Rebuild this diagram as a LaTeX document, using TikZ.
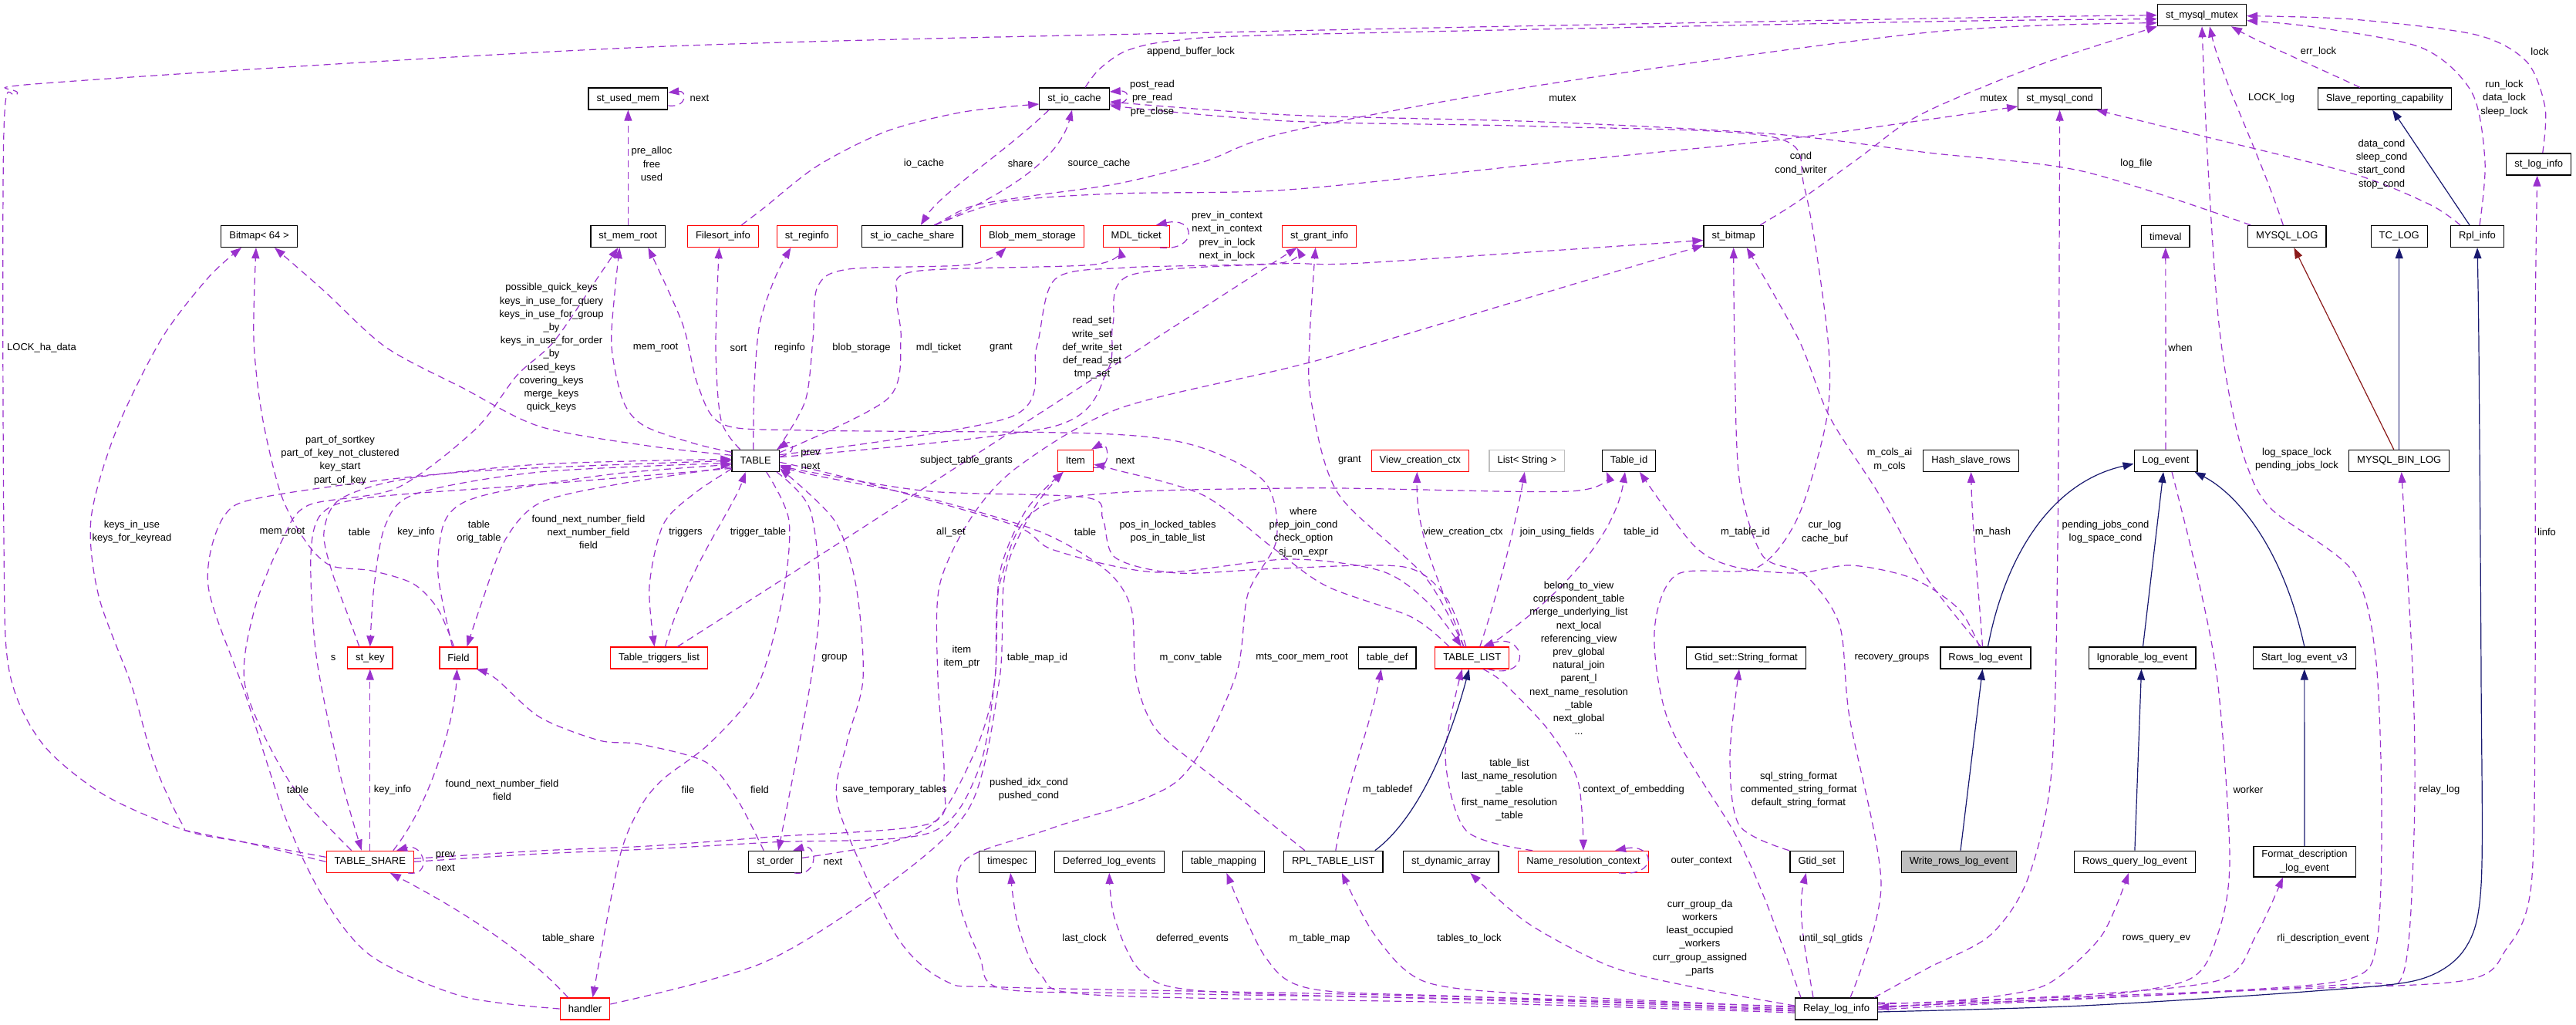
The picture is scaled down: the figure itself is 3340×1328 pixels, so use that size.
\documentclass[tikz,border=0pt]{standalone}
\usepackage{fontspec}
\setmainfont{Liberation Sans}
\usepackage{tikz}
\usetikzlibrary{arrows.meta}
\definecolor{usecol}{RGB}{154,50,205}
\definecolor{inhcol}{RGB}{25,25,112}
\definecolor{protcol}{RGB}{139,26,26}

\begin{document}
\begin{tikzpicture}[
    x=1pt, y=-1pt,
    every node/.style={font=\fontsize{13}{17.2}\selectfont},
    cls/.style={draw=black, line width=1.25pt, fill=white, minimum height=28pt, inner xsep=10.5pt, inner ysep=3pt},
    clsred/.style={cls, draw=red},
    clsgray/.style={cls, draw=black!25},
    clsmain/.style={cls, fill=black!25},
    lbl/.style={align=center, inner sep=0pt},
    uses/.style={usecol, line width=1.2pt, dash pattern=on 9pt off 6pt, -{Triangle[length=14pt, width=10pt]}},
    inherit/.style={inhcol, line width=1.2pt, -{Triangle[length=14pt, width=10pt]}},
    protinh/.style={protcol, line width=1.2pt, -{Triangle[length=14pt, width=10pt]}}
]
\fill[white] (0,0) rectangle (3340,1328);
\useasboundingbox (0,0) rectangle (3340,1328);

% row 0 / row 1
\node[cls] (mutex) at (2855,19.7) {st\_mysql\_mutex};
\node[cls] (usedmem) at (814.4,128) {st\_used\_mem};
\node[cls] (iocache) at (1393,128) {st\_io\_cache};
\node[cls] (mcond) at (2670.6,128) {st\_mysql\_cond};
\node[cls] (slaverep) at (3092,128) {Slave\_reporting\_capability};
\node[cls] (loginfo) at (3291.7,213) {st\_log\_info};

% row 2
\node[cls] (bitmap64) at (336,306.5) {Bitmap< 64 >};
\node[cls] (memroot) at (814.4,306.5) {st\_mem\_root};
\node[clsred] (filesort) at (937.4,306.5) {Filesort\_info};
\node[clsred] (reginfo) at (1046.4,306.5) {st\_reginfo};
\node[cls] (iocshare) at (1182.8,306.5) {st\_io\_cache\_share};
\node[clsred] (blobmem) at (1338.4,306.5) {Blob\_mem\_storage};
\node[clsred] (mdlticket) at (1473.2,306.5) {MDL\_ticket};
\node[clsred] (grantinfo) at (1710.6,306.5) {st\_grant\_info};
\node[cls] (stbitmap) at (2247.7,306.5) {st\_bitmap};
\node[cls] (timeval) at (2807.8,306.5) {timeval};
\node[cls] (mysqllog) at (2965.3,306.5) {MYSQL\_LOG};
\node[cls] (tclog) at (3110.7,306.5) {TC\_LOG};
\node[cls] (rplinfo) at (3212,306.5) {Rpl\_info};

% row 3
\node[cls] (table) at (979.7,597.3) {TABLE};
\node[clsred] (item) at (1394.4,597.3) {Item};
\node[clsred] (viewctx) at (1841.3,597.3) {View\_creation\_ctx};
\node[clsgray] (liststr) at (1979.8,597.3) {List< String >};
\node[cls] (tableid) at (2112,597.3) {Table\_id};
\node[cls] (hashrows) at (2555.6,597.3) {Hash\_slave\_rows};
\node[cls] (logevent) at (2808,597.3) {Log\_event};
\node[cls] (binlog) at (3110.7,597.3) {MYSQL\_BIN\_LOG};

% row 4
\node[clsred] (stkey) at (479.8,853) {st\_key};
\node[clsred] (field) at (594.5,853) {Field};
\node[clsred] (triggers) at (854.5,853) {Table\_triggers\_list};
\node[cls] (tabledef) at (1798.7,853) {table\_def};
\node[clsred] (tablelist) at (1908.8,853) {TABLE\_LIST};
\node[cls] (strformat) at (2264,853) {Gtid\_set::String\_format};
\node[cls] (rowsev) at (2574.5,853) {Rows\_log\_event};
\node[cls] (ignorable) at (2777.5,853) {Ignorable\_log\_event};
\node[cls] (startv3) at (2987.8,853) {Start\_log\_event\_v3};

% row 5
\node[clsred] (tshare) at (479.8,1117.3) {TABLE\_SHARE};
\node[cls] (storder) at (1005.2,1117.3) {st\_order};
\node[cls] (timespec) at (1306.2,1117.3) {timespec};
\node[cls] (deferred) at (1438.3,1117.3) {Deferred\_log\_events};
\node[cls] (tmapping) at (1586.4,1117.3) {table\_mapping};
\node[cls] (rpltl) at (1728.8,1117.3) {RPL\_TABLE\_LIST};
\node[cls] (dynarray) at (1881.3,1117.3) {st\_dynamic\_array};
\node[clsred] (namectx) at (2053,1117.3) {Name\_resolution\_context};
\node[cls] (gtidset) at (2355.8,1117.3) {Gtid\_set};
\node[clsmain] (writerows) at (2540,1117.3) {Write\_rows\_log\_event};
\node[cls] (rowsquery) at (2767.9,1117.3) {Rows\_query\_log\_event};
\node[cls, align=center, inner ysep=5pt] (fmtdesc) at (2988,1117.2) {Format\_description\\\_log\_event};

% row 6
\node[clsred] (handler) at (758.5,1308) {handler};
\node[cls] (rli) at (2381,1308) {Relay\_log\_info};

% edges into st_mysql_mutex
\draw[uses] plot[smooth] coordinates {(tshare.west) (321,1093) (241,1077) (134,1030) (54,963) (12,870) (5,700) (5,170) (22,122) (70,107) (840,61) (1670,40) (2500,24) (mutex.west)};
\draw[uses] plot[smooth] coordinates {([shift={(14,0)}]iocache.north) (1425,90) (1460,66) (1520,53) (1670,45) (2500,28) ([shift={(0,5)}]mutex.west)};
\draw[uses] plot[smooth] coordinates {([shift={(30,0)}]iocshare.north) (1258,268) (1330,255) (1450,238) (1560,210) (1670,171) (2000,110) (2500,42) ([shift={(0,10)}]mutex.west)};
\draw[uses] plot[smooth] coordinates {([shift={(-5,0)}]stbitmap.north east) (2330,262) (2410,205) (2470,160) (2530,130) (2650,82) (mutex.south west)};
\draw[uses] ([shift={(-32,0)}]slaverep.north) .. controls (3010,90) and (2930,55) .. ([shift={(38,0)}]mutex.south);
\draw[uses] ([shift={(-5,0)}]mysqllog.north) .. controls (2930,200) and (2880,100) .. ([shift={(10,0)}]mutex.south);
\draw[uses] plot[smooth] coordinates {([shift={(3,0)}]rplinfo.north) (3222,210) (3205,120) (3140,62) (3000,35) ([shift={(0,7)}]mutex.east)};
\draw[uses] plot[smooth] coordinates {([shift={(5,0)}]loginfo.north) (3300,140) (3276,80) (3210,45) (3050,25) ([shift={(0,1)}]mutex.east)};
\draw[uses] plot[smooth] coordinates {([shift={(0,-1)}]rli.east) (2600,1296) (2900,1284) (3050,1268) (3082,1220) (3088,1050) (3080,850) (3050,740) (2945,660) (2912,600) (2890,510) (2875,400) (2862,200) (mutex.south)};

% edges into st_mysql_cond
\draw[uses] plot[smooth] coordinates {([shift={(30,0)}]iocshare.north) (1300,262) (1446,251) (1670,246) (2000,212) (2300,182) (2500,155) ([shift={(0,10)}]mcond.west)};
\draw[uses] plot[smooth] coordinates {([shift={(-22,0)}]rplinfo.north) (3150,265) (3050,225) (2850,175) ([shift={(-7,0)}]mcond.south east)};
\draw[uses] plot[smooth] coordinates {([shift={(-5,0)}]rli.north east) (2500,1255) (2580,1213) (2629,1140) (2660,1000) (2668,700) (mcond.south)};

% st_io_cache and st_used_mem
\draw[uses] ([shift={(0,7)}]iocache.east) .. controls +(28,2) and +(28,-2) .. ([shift={(0,-9)}]iocache.east);
\draw[uses] plot[smooth] coordinates {([shift={(24,0)}]filesort.north) (990,270) (1060,215) (1150,170) (1250,145) ([shift={(0,7)}]iocache.west)};
\draw[uses] ([shift={(28,0)}]iocshare.north) .. controls (1320,245) and (1375,200) .. ([shift={(-3,0)}]iocache.south);
\draw[uses] ([shift={(-33,0)}]iocache.south) .. controls (1300,200) and (1220,250) .. ([shift={(11,0)}]iocshare.north);
\draw[uses] plot[smooth] coordinates {([shift={(-47,0)}]mysqllog.north) (2700,222) (2500,198) (2302,174) (2000,158) (1670,149) ([shift={(0,4)}]iocache.east)};
\draw[uses] plot[smooth] coordinates {([shift={(-46,0)}]rli.north) (2290,1170) (2249,1080) (2165,940) (2145,820) (2174,745) (2276,737) (2330,673) (2368,545) (2370,440) (2340,245) (2300,178) (2000,164) (1670,157) ([shift={(0,9)}]iocache.east)};
\draw[uses] ([shift={(0,9)}]usedmem.east) .. controls +(25,3) and +(25,-3) .. ([shift={(0,-8)}]usedmem.east);
\draw[uses] (memroot.north) -- (usedmem.south);
\draw[uses] ([shift={(-13,0)}]mdlticket.south east) .. controls +(50,5) and +(52,-12) .. ([shift={(-18,0)}]mdlticket.north east);

% TABLE members
\draw[uses] plot[smooth] coordinates {([shift={(0,-7)}]table.west) (840,578) (700,553) (600,503) (500,450) (420,377) ([shift={(20,0)}]bitmap64.south)};
\draw[uses] plot[smooth] coordinates {([shift={(0,-11)}]table.west) (900,575) (835,552) (808,520) (793,450) (797,380) ([shift={(-11,0)}]memroot.south)};
\draw[uses] plot[smooth] coordinates {([shift={(-20,0)}]table.north) (935,545) (928,450) ([shift={(-5,0)}]filesort.south)};
\draw[uses] plot[smooth] coordinates {([shift={(-3,0)}]table.north) (978,500) (985,420) (1005,360) ([shift={(-21,0)}]reginfo.south)};
\draw[uses] plot[smooth] coordinates {([shift={(-3,0)}]table.north east) (1044,520) (1054,440) (1060,372) (1100,349) (1258,343) ([shift={(-34,0)}]blobmem.south)};
\draw[uses] plot[smooth] coordinates {([shift={(0,4)}]table.north east) (1151,517) (1168,440) (1163,385) (1185,352) (1419,343) ([shift={(-22,0)}]mdlticket.south)};
\draw[uses] plot[smooth] coordinates {([shift={(0,7)}]table.north east) (1312,540) (1344,450) (1368,362) (1460,347) (1660,341) ([shift={(-29,0)}]grantinfo.south)};
\draw[uses] plot[smooth] coordinates {([shift={(0,10)}]table.north east) (1366,553) (1436,480) (1443,420) (1465,357) (1660,342) (1767,341) ([shift={(0,5)}]stbitmap.west)};
\draw[uses] ([shift={(0,-5)}]table.east) .. controls +(25,-5) and +(20,-14) .. ([shift={(-3,0)}]table.north east);
\draw[uses] plot[smooth] coordinates {([shift={(0,3)}]table.west) (700,612) (540,640) (500,680) (485,760) (stkey.north)};
\draw[uses] plot[smooth] coordinates {([shift={(0,8)}]table.west) (800,628) (700,652) (655,700) (625,780) ([shift={(11,0)}]field.north)};
\draw[uses] plot[smooth] coordinates {([shift={(0,10)}]table.west) (700,628) (480,645) (418,665) (403,720) (410,850) (440,1000) ([shift={(-11,0)}]tshare.north)};
\draw[uses] plot[smooth] coordinates {([shift={(0,-4)}]table.south west) (900,640) (860,680) (842,760) ([shift={(-6,0)}]triggers.north)};
\draw[uses] plot[smooth] coordinates {([shift={(-4,0)}]table.south east) (1050,660) (1063,773) (1050,890) ([shift={(4,0)}]storder.north)};
\draw[uses] plot[smooth] coordinates {([shift={(14,0)}]table.south) (1023,675) (1015,773) (982,890) (921,963) (860,1010) (830,1047) (803,1113) ([shift={(10,0)}]handler.north)};
\draw[uses] plot[smooth] coordinates {([shift={(0,2)}]table.east) (1100,620) (1312,680) (1366,713) (1500,742) (1670,725) (1790,740) (1850,780) ([shift={(-14,0)}]tablelist.north)};

% edges into TABLE
\draw[uses] plot[smooth] coordinates {([shift={(-14,0)}]stkey.north) (452,800) (430,740) (420,690) (440,648) (520,622) (700,602) ([shift={(0,-2)}]table.west)};
\draw[uses] plot[smooth] coordinates {([shift={(-8,0)}]field.north) (568,745) (575,680) (600,652) (660,635) (800,614) ([shift={(0,5)}]table.west)};
\draw[uses] plot[smooth] coordinates {(handler.west) (600,1292) (482,1240) (420,1165) (370,1060) (318,900) (270,760) (290,670) (350,643) (600,612) (table.west)};
\draw[uses] ([shift={(8,0)}]triggers.north) .. controls (890,740) and (950,660) .. ([shift={(-13,0)}]table.south);
\draw[uses] plot[smooth] coordinates {([shift={(-8,0)}]tablelist.north) (1875,775) (1820,735) (1660,737) (1526,743) (1446,723) (1430,673) (1408,645) (1205,637) (1050,612) ([shift={(0,6)}]table.east)};
\draw[uses] plot[smooth] coordinates {([shift={(-37,0)}]rpltl.north) (1580,1013) (1500,947) (1473,880) (1467,790) (1435,740) (1350,690) (1200,645) (1060,617) ([shift={(0,8)}]table.east)};
\draw[uses] plot[smooth] coordinates {([shift={(0,-3)}]rli.west) (2000,1295) (1700,1288) (1300,1280) (1226,1272) (1162,1213) (1087,1047) (1098,963) (1119,880) (1110,760) (1082,675) ([shift={(0,10)}]table.east)};

% Bitmap< 64 > and st_mem_root from below
\draw[uses] plot[smooth] coordinates {([shift={(-6,0)}]field.north) (568,790) (536,757) (482,740) (428,733) (395,700) (364,640) (340,540) (329,440) ([shift={(-4,0)}]bitmap64.south)};
\draw[uses] plot[smooth] coordinates {([shift={(0,-6)}]tshare.west) (257,1080) (236,1068) (200,990) (171,890) (128,773) (118,673) (150,560) (209,440) (270,360) ([shift={(-23,0)}]bitmap64.south)};
\draw[uses] plot[smooth] coordinates {([shift={(-24,0)}]tshare.north) (375,1013) (318,890) (330,790) (366,700) (400,655) (514,633) (616,557) (670,487) (718,443) (775,360) ([shift={(-13,0)}]memroot.south)};
\draw[uses] plot[smooth] coordinates {([shift={(0,2)}]rli.west) (2000,1297) (1500,1288) (1300,1282) (1270,1240) (1242,1163) (1255,1112) (1366,1073) (1526,1013) (1601,880) (1618,770) (1655,700) (1640,625) (1550,578) (1419,562) (1044,558) (937,550) (905,500) (885,420) ([shift={(26,0)}]memroot.south)};

% Table_triggers_list, TABLE_SHARE, st_order, handler
\draw[uses] ([shift={(24,0)}]triggers.north) .. controls (1080,710) and (1480,450) .. ([shift={(-29,0)}]grantinfo.south);
\draw[uses] plot[smooth] coordinates {([shift={(0,-4)}]tshare.east) (700,1103) (840,1097) (1000,1085) (1205,1068) (1224,1010) (1216,880) (1218,760) (1260,670) (1320,605) (1450,530) (1670,477) (1767,450) ([shift={(0,-3)}]stbitmap.south west)};
\draw[uses] plot[smooth] coordinates {(tshare.east) (700,1107) (840,1101) (1000,1092) (1205,1080) (1268,1000) (1290,880) (1298,750) (1366,650) (1670,633) (2035,637) ([shift={(-29,0)}]tableid.south)};
\draw[uses] (tshare.north) -- (stkey.south);
\draw[uses] ([shift={(30,0)}]tshare.north) .. controls (560,1040) and (590,930) .. ([shift={(-2,0)}]field.south);
\draw[uses] ([shift={(-8,0)}]tshare.south east) .. controls +(32,5) and +(36,-10) .. ([shift={(-23,0)}]tshare.north east);
\draw[uses] ([shift={(-22,0)}]handler.north) .. controls (670,1220) and (560,1160) .. ([shift={(26,0)}]tshare.south);
\draw[uses] plot[smooth] coordinates {([shift={(-15,0)}]storder.north) (955,1035) (915,988) (830,965) (777,960) (700,930) (643,880) ([shift={(-2,0)}]field.south east)};
\draw[uses] ([shift={(-10,0)}]storder.south east) .. controls +(32,5) and +(32,-10) .. ([shift={(-12,0)}]storder.north east);
\draw[uses] plot[smooth] coordinates {([shift={(0,-5)}]storder.east) (1151,1093) (1216,1062) (1268,965) (1290,880) (1296,745) (1330,662) ([shift={(8,0)}]item.south west)};
\draw[uses] plot[smooth] coordinates {([shift={(0,-6)}]handler.east) (990,1248) (1151,1147) (1258,1045) (1296,880) (1303,745) (1340,660) ([shift={(8,0)}]item.south west)};
\draw[uses] ([shift={(0,9)}]item.east) .. controls +(25,3) and +(22,-12) .. ([shift={(-3,0)}]item.north east);

% TABLE_LIST members
\draw[uses] plot[smooth] coordinates {([shift={(-30,0)}]tablelist.north) (1830,800) (1720,760) (1650,710) (1560,642) (1446,609) ([shift={(0,5)}]item.east)};
\draw[uses] plot[smooth] coordinates {([shift={(-11,0)}]tablelist.north) (1847,747) (1735,640) (1700,520) (1698,440) ([shift={(-5,0)}]grantinfo.south)};
\draw[uses] ([shift={(-11,0)}]tablelist.north) .. controls (1870,760) and (1836,700) .. ([shift={(-4,0)}]viewctx.south);
\draw[uses] ([shift={(10,0)}]tablelist.north) .. controls (1945,760) and (1965,680) .. ([shift={(-3,0)}]liststr.south);
\draw[uses] ([shift={(20,0)}]tablelist.north) .. controls (2030,770) and (2095,690) .. ([shift={(-5,0)}]tableid.south);
\draw[uses] ([shift={(20,0)}]tablelist.south) .. controls +(60,15) and +(55,-20) .. ([shift={(14,0)}]tablelist.north);
\draw[uses] plot[smooth] coordinates {([shift={(14,0)}]tablelist.south) (1949,885) (2008,947) (2046,1013) (namectx.north)};
\draw[uses] plot[smooth] coordinates {([shift={(-66,0)}]namectx.north) (1901,1077) (1874,980) ([shift={(-13,0)}]tablelist.south)};
\draw[uses] ([shift={(46,0)}]namectx.south) .. controls +(52,5) and +(52,-10) .. ([shift={(41,0)}]namectx.north);
\draw[uses] ([shift={(3,0)}]rpltl.north) .. controls (1745,1020) and (1780,930) .. ([shift={(-8,0)}]tabledef.south);
\draw[inherit] ([shift={(54,0)}]rpltl.north) .. controls (1840,1060) and (1880,960) .. ([shift={(-4,0)}]tablelist.south);
\draw[uses] plot[smooth] coordinates {([shift={(-36,0)}]gtidset.north) (2255,1070) (2243,980) ([shift={(-9,0)}]strformat.south)};

% Rows_log_event members and st_bitmap
\draw[uses] plot[smooth] coordinates {([shift={(-8,0)}]rowsev.north) (2540,790) (2480,750) (2400,733) (2330,743) (2249,735) (2196,707) ([shift={(14,0)}]tableid.south)};
\draw[uses] plot[smooth] coordinates {([shift={(-6,0)}]rowsev.north) (2500,752) (2437,642) (2372,540) (2332,440) ([shift={(17,0)}]stbitmap.south)};
\draw[uses] ([shift={(-4,0)}]rowsev.north) .. controls (2565,760) and (2557,680) .. (hashrows.south);
\draw[uses] plot[smooth] coordinates {([shift={(18,0)}]rli.north) (2439,1147) (2398,930) (2385,810) (2340,745) (2285,720) (2255,620) (2249,450) (stbitmap.south)};

% Log_event
\draw[uses] (logevent.north) -- (timeval.south);
\draw[uses] plot[smooth] coordinates {([shift={(8,0)}]logevent.south) (2850,750) (2876,890) (2891,1113) (2876,1210) (2838,1270) (2700,1293) (2500,1303) ([shift={(0,-2)}]rli.east)};

% Relay_log_info members (bottom)
\draw[uses] plot[smooth] coordinates {([shift={(0,-2)}]rli.west) (2000,1290) (1848,1273) (1783,1213) ([shift={(11,0)}]rpltl.south)};
\draw[uses] plot[smooth] coordinates {([shift={(0,-4)}]rli.west) (2196,1280) (2088,1253) (1981,1197) ([shift={(25,0)}]dynarray.south)};
\draw[uses] plot[smooth] coordinates {(rli.west) (1900,1292) (1700,1282) (1640,1240) ([shift={(4,0)}]tmapping.south)};
\draw[uses] plot[smooth] coordinates {([shift={(0,3)}]rli.west) (1900,1296) (1560,1285) (1480,1260) (1445,1190) (deferred.south)};
\draw[uses] plot[smooth] coordinates {([shift={(0,5)}]rli.west) (1900,1300) (1420,1290) (1350,1265) (1320,1200) ([shift={(4,0)}]timespec.south)};
\draw[uses] ([shift={(-30,0)}]rli.north) .. controls (2340,1230) and (2330,1180) .. ([shift={(-14,0)}]gtidset.south);
\draw[uses] plot[smooth] coordinates {([shift={(0,-8)}]rli.east) (2500,1300) (2600,1290) (2660,1273) (2725,1213) ([shift={(-8,0)}]rowsquery.south)};
\draw[uses] plot[smooth] coordinates {([shift={(0,-6)}]rli.east) (2700,1290) (2880,1270) (2925,1213) ([shift={(-28,0)}]fmtdesc.south)};
\draw[uses] plot[smooth] coordinates {([shift={(0,-3)}]rli.east) (2800,1290) (3060,1275) (3116,1262) (3130,1080) (3129,890) ([shift={(3,0)}]binlog.south)};
\draw[uses] plot[smooth] coordinates {([shift={(0,1)}]rli.east) (2900,1285) (3191,1272) (3250,1230) (3282,1147) (3287,880) (3287,440) ([shift={(-2,0)}]loginfo.south)};

% inheritance
\draw[inherit] ([shift={(2,0)}]writerows.north) -- ([shift={(-4,0)}]rowsev.south);
\draw[inherit] ([shift={(3,0)}]rowsev.north) .. controls (2600,720) and (2660,625) .. ([shift={(0,4)}]logevent.west);
\draw[inherit] ([shift={(1,0)}]ignorable.north) -- ([shift={(-3,0)}]logevent.south);
\draw[inherit] (startv3.north) .. controls (2960,710) and (2900,640) .. ([shift={(-4,0)}]logevent.south east);
\draw[inherit] (rowsquery.north) -- ([shift={(-1,0)}]ignorable.south);
\draw[inherit] (fmtdesc.north) -- (startv3.south);
\draw[protinh] ([shift={(-7,0)}]binlog.north) -- ([shift={(9,0)}]mysqllog.south);
\draw[inherit] (binlog.north) -- (tclog.south);
\draw[inherit] ([shift={(-10,0)}]rplinfo.north) -- ([shift={(10,0)}]slaverep.south);
\draw[inherit] plot[smooth] coordinates {([shift={(0,4)}]rli.east) (2700,1304) (3000,1285) (3137,1270) (3196,1230) (3217,1147) (3217,880) (3214,450) (rplinfo.south)};

% labels
\node[lbl] (l-lockha) at (54,451) {LOCK\_ha\_data};
\node[lbl] (l-append) at (1544,67) {append\_buffer\_lock};
\node[lbl] (l-mutexa) at (2026,127) {mutex};
\node[lbl] (l-mutexb) at (2585,127) {mutex};
\node[lbl] (l-errlock) at (3006,67) {err\_lock};
\node[lbl] (l-lock) at (3293,67) {lock};
\node[lbl] (l-locklog) at (2945,127) {LOCK\_log};
\node[lbl] (l-runlock) at (3247,127.5) {run\_lock\\data\_lock\\sleep\_lock};
\node[lbl] (l-spacelock) at (2978,596) {log\_space\_lock\\pending\_jobs\_lock};
\node[lbl] (l-nextmem) at (907,127) {next};
\node[lbl] (l-postread) at (1494,127.5) {post\_read\\pre\_read\\pre\_close};
\node[lbl] (l-prealloc) at (845,212.5) {pre\_alloc\\free\\used};
\node[lbl] (l-iocache) at (1198,212) {io\_cache};
\node[lbl] (l-share) at (1323,212) {share};
\node[lbl] (l-source) at (1425,212) {source\_cache};
\node[lbl] (l-cond) at (2335,212) {cond\\cond\_writer};
\node[lbl] (l-logfile) at (2770,212) {log\_file};
\node[lbl] (l-datacond) at (3088,213) {data\_cond\\sleep\_cond\\start\_cond\\stop\_cond};
\node[lbl] (l-mdlnext) at (1591,306) {prev\_in\_context\\next\_in\_context\\prev\_in\_lock\\next\_in\_lock};
\node[lbl] (l-quickkeys) at (715,451) {possible\_quick\_keys\\keys\_in\_use\_for\_query\\keys\_in\_use\_for\_group\\\_by\\keys\_in\_use\_for\_order\\\_by\\used\_keys\\covering\_keys\\merge\_keys\\quick\_keys};
\node[lbl] (l-memroota) at (850,451) {mem\_root};
\node[lbl] (l-sort) at (957.5,451) {sort};
\node[lbl] (l-reginfo) at (1024,451) {reginfo};
\node[lbl] (l-blob) at (1117,451) {blob\_storage};
\node[lbl] (l-mdl) at (1217,451) {mdl\_ticket};
\node[lbl] (l-granta) at (1298,451) {grant};
\node[lbl] (l-readset) at (1416,451) {read\_set\\write\_set\\def\_write\_set\\def\_read\_set\\tmp\_set};
\node[lbl] (l-tabnext) at (1051,596) {prev\\next};
\node[lbl] (l-subject) at (1253,597) {subject\_table\_grants};
\node[lbl] (l-itemnext) at (1459,597) {next};
\node[lbl] (l-sortkey) at (441,597) {part\_of\_sortkey\\part\_of\_key\_not\_clustered\\key\_start\\part\_of\_key};
\node[lbl] (l-keysinuse) at (171,690) {keys\_in\_use\\keys\_for\_keyread};
\node[lbl] (l-memrootb) at (366,690) {mem\_root};
\node[lbl] (l-tablea) at (466,690) {table};
\node[lbl] (l-keyinfoa) at (539.5,690) {key\_info};
\node[lbl] (l-origtable) at (621,690) {table\\orig\_table};
\node[lbl] (l-nextnum) at (763,690) {found\_next\_number\_field\\next\_number\_field\\field};
\node[lbl] (l-triggers) at (889,690) {triggers};
\node[lbl] (l-trigtable) at (983,690) {trigger\_table};
\node[lbl] (l-allset) at (1233,690) {all\_set};
\node[lbl] (l-tableb) at (1407,690) {table};
\node[lbl] (l-posin) at (1514,690) {pos\_in\_locked\_tables\\pos\_in\_table\_list};
\node[lbl] (l-where) at (1690,690) {where\\prep\_join\_cond\\check\_option\\sj\_on\_expr};
\node[lbl] (l-grantb) at (1750,597) {grant};
\node[lbl] (l-viewctx) at (1897,690) {view\_creation\_ctx};
\node[lbl] (l-joinusing) at (2019,690) {join\_using\_fields};
\node[lbl] (l-tableid) at (2128,690) {table\_id};
\node[lbl] (l-mtableid) at (2263,690) {m\_table\_id};
\node[lbl] (l-curlog) at (2366,690) {cur\_log\\cache\_buf};
\node[lbl] (l-mcols) at (2450,596) {m\_cols\_ai\\m\_cols};
\node[lbl] (l-when) at (2827,451) {when};
\node[lbl] (l-mhash) at (2584,690) {m\_hash};
\node[lbl] (l-pendcond) at (2730,690) {pending\_jobs\_cond\\log\_space\_cond};
\node[lbl] (l-linfo) at (3302,690) {linfo};
\node[lbl] (l-s) at (432,853) {s};
\node[lbl] (l-group) at (1082,853) {group};
\node[lbl] (l-itemptr) at (1247,852) {item\\item\_ptr};
\node[lbl] (l-tablemapid) at (1345,853) {table\_map\_id};
\node[lbl] (l-mconv) at (1544,853) {m\_conv\_table};
\node[lbl] (l-mtscoor) at (1688,853) {mts\_coor\_mem\_root};
\node[lbl] (l-belong) at (2047,853.4) {belong\_to\_view\\correspondent\_table\\merge\_underlying\_list\\next\_local\\referencing\_view\\prev\_global\\natural\_join\\parent\_l\\next\_name\_resolution\\\_table\\next\_global\\...};
\node[lbl] (l-recovery) at (2453,853) {recovery\_groups};
\node[lbl] (l-tablec) at (386,1024) {table};
\node[lbl] (l-keyinfob) at (509,1024) {key\_info};
\node[lbl] (l-foundnext) at (651,1024) {found\_next\_number\_field\\field};
\node[lbl] (l-sharenext) at (577.5,1117) {prev\\next};
\node[lbl] (l-tableshare) at (737,1217) {table\_share};
\node[lbl] (l-file) at (892,1024) {file};
\node[lbl] (l-field) at (985,1024) {field};
\node[lbl] (l-ordernext) at (1080,1117) {next};
\node[lbl] (l-savetmp) at (1160,1024) {save\_temporary\_tables};
\node[lbl] (l-pushed) at (1334,1024) {pushed\_idx\_cond\\pushed\_cond};
\node[lbl] (l-lastclock) at (1406,1217) {last\_clock};
\node[lbl] (l-deferred) at (1546,1217) {deferred\_events};
\node[lbl] (l-mtabledef) at (1799,1024) {m\_tabledef};
\node[lbl] (l-tablelist) at (1957,1024) {table\_list\\last\_name\_resolution\\\_table\\first\_name\_resolution\\\_table};
\node[lbl] (l-context) at (2118,1024) {context\_of\_embedding};
\node[lbl] (l-outer) at (2206,1117) {outer\_context};
\node[lbl] (l-sqlfmt) at (2332,1024) {sql\_string\_format\\commented\_string\_format\\default\_string\_format};
\node[lbl] (l-mtablemap) at (1711,1217) {m\_table\_map};
\node[lbl] (l-tolock) at (1905,1217) {tables\_to\_lock};
\node[lbl] (l-currgroup) at (2204,1216) {curr\_group\_da\\workers\\least\_occupied\\\_workers\\curr\_group\_assigned\\\_parts};
\node[lbl] (l-untilsql) at (2374,1217) {until\_sql\_gtids};
\node[lbl] (l-worker) at (2915,1024) {worker};
\node[lbl] (l-rowsquery) at (2796,1217) {rows\_query\_ev};
\node[lbl] (l-rlidesc) at (3012,1217) {rli\_description\_event};
\node[lbl] (l-relaylog) at (3163,1024) {relay\_log};

\end{tikzpicture}
\end{document}
